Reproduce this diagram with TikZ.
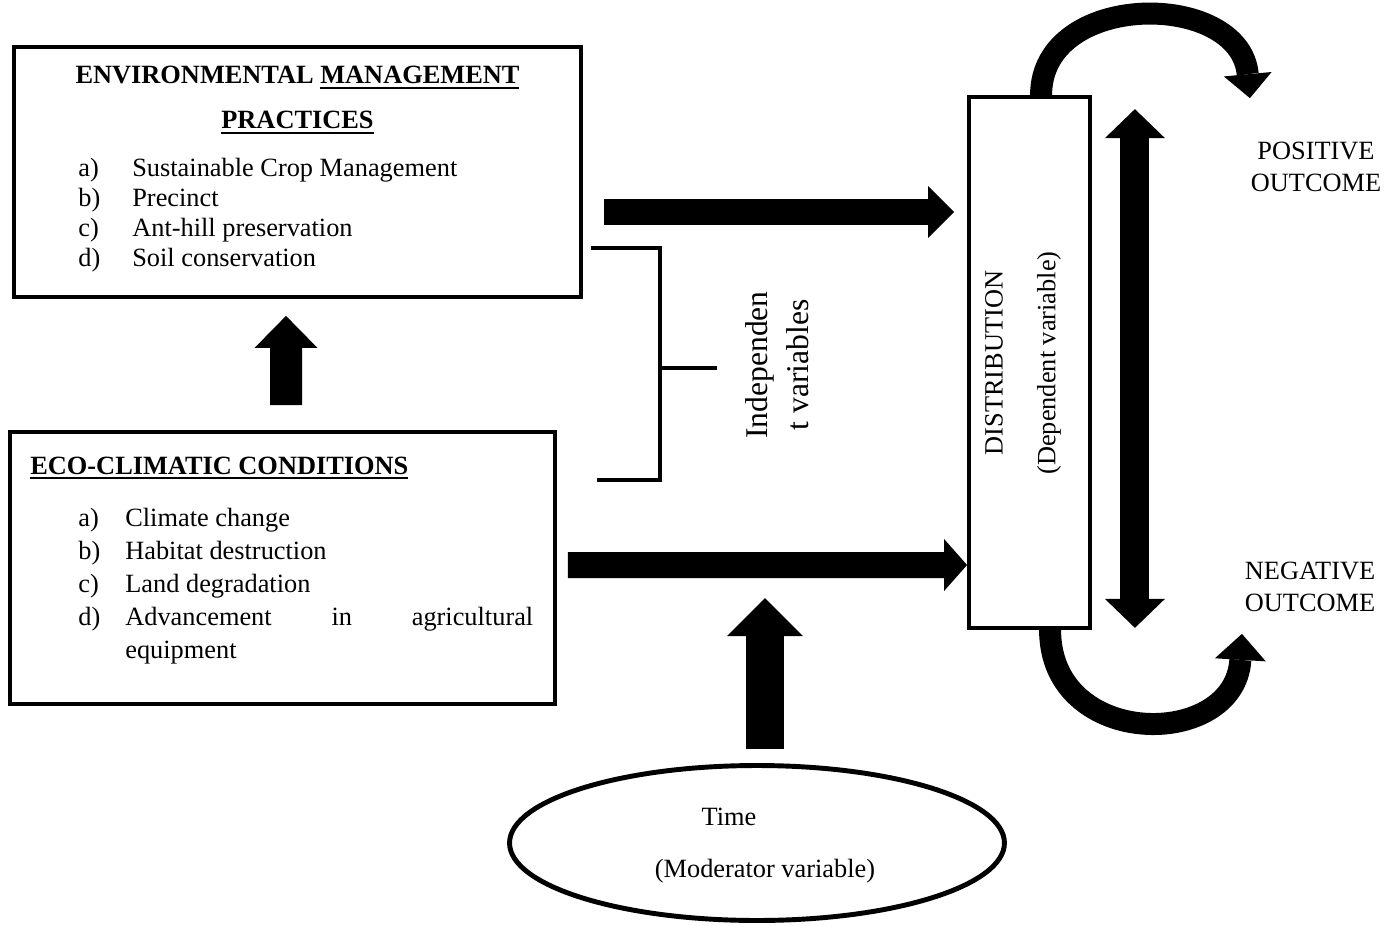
\documentclass[tikz,border=0pt]{standalone}
\usepackage{fontspec}
\setmainfont{Liberation Serif}
\usetikzlibrary{arrows.meta, positioning, shapes.geometric}
\newcommand{\ulbar}[1]{\setbox0\hbox{#1}\rlap{\rule[-2.8pt]{\wd0}{1.1pt}}\box0}

\begin{document}
\begin{tikzpicture}[
  x=0.02cm, y=-0.02cm,
  box/.style={draw, line width=2.2pt, inner sep=0pt},
  txt/.style={inner sep=0pt, font=\fontsize{15}{18}\selectfont},
  head/.style={inner sep=0pt, font=\fontsize{15}{18}\selectfont\bfseries},
  fat/.style n args={3}{line width=#1, -{Triangle[length=#2, width=#3, line width=0pt]}},
  fatboth/.style n args={3}{line width=#1, {Triangle[length=#2, width=#3, line width=0pt]}-{Triangle[length=#2, width=#3, line width=0pt]}},
  bracket/.style={line width=2.2pt}
]
  \useasboundingbox (0,0) rectangle (1393,926);

  \node[box, minimum width=11.34cm, minimum height=5cm] (env) at (297.5,172) {};
  \node[box, minimum width=10.9cm, minimum height=5.44cm] (eco) at (282.5,568) {};
  \node[box, minimum width=2.42cm, minimum height=10.62cm] (dist) at (1029.5,362.5) {};
  \node[box, ellipse, line width=2.8pt, minimum width=9.9cm, minimum height=3.1cm] (time) at (757,843) {};

  % texts of the boxes
  \node[head, anchor=base] (envhead) at (297.5,84) {ENVIRONMENTAL \ulbar{MANAGEMENT}};
  \node[head, anchor=base] (envhead2) at (297.5,129) {\ulbar{PRACTICES}};
  \node[txt, anchor=base west, font=\fontsize{15}{17.2}\selectfont] (envlist) at (78,176) {%
    \begin{tabular}[t]{@{}p{1.08cm}@{}l@{}}
      a) & Sustainable Crop Management\\
      b) & Precinct\\
      c) & Ant-hill preservation\\
      d) & Soil conservation
    \end{tabular}};

  \node[head, anchor=base west] (ecohead) at (30,474) {\ulbar{ECO-CLIMATIC CONDITIONS}};
  \node[txt, anchor=base west, font=\fontsize{15}{18.8}\selectfont] (ecolist) at (78,526) {%
    \tolerance=10000 \hyphenpenalty=10000
    \begin{tabular}[t]{@{}p{0.94cm}@{}p{8.16cm}@{}}
      a) & Climate change\\
      b) & Habitat destruction\\
      c) & Land degradation\\
      d) & \hyphenpenalty=10000 Advancement in agricultural equipment
    \end{tabular}};

  \node[txt, rotate=90, align=center, font=\fontsize{15}{30}\selectfont] (disttext) at (1023,363) {DISTRIBUTION\\(Dependent variable)};
  \node[txt, rotate=90, align=center, font=\fontsize{18}{23.2}\selectfont] (indep) at (777,365) {Independen\\t variables};
  \node[txt] (timetext) at (729,817) {Time};
  \node[txt] (modtext) at (765,871) {(Moderator variable)};
  \node[txt, align=center] (pos) at (1316,167) {POSITIVE\\OUTCOME};
  \node[txt, align=center] (neg) at (1310,587) {NEGATIVE\\OUTCOME};

  % block arrows
  \draw[fat={0.64cm}{0.64cm}{1.26cm}] ([shift={(3.5,-25)}]eco.north) -- ([shift={(-11.5,17)}]env.south);
  \draw[fat={0.52cm}{0.52cm}{1.04cm}] ([shift={(21,40)}]env.east) -- ([shift={(-13,-150.5)}]dist.west);
  \draw[fat={0.52cm}{0.46cm}{1.04cm}] ([shift={(11,-3)}]eco.east) -- ([shift={(0,202.5)}]dist.west);
  \draw[fat={0.76cm}{0.76cm}{1.52cm}] ([shift={(8,-14)}]time.north) -- ++(0,-151);
  \draw[fatboth={0.58cm}{0.58cm}{1.2cm}] ([shift={(43,14)}]dist.north east) -- ([shift={(43,-2)}]dist.south east);
  \draw[fat={0.44cm}{0.48cm}{0.96cm}] ([shift={(74,0)}]dist.north west) .. controls +(0,-105) and +(-10,-108) .. ([shift={(158,3)}]dist.north east);
  \draw[fat={0.44cm}{0.52cm}{1.02cm}] ([shift={(83,0)}]dist.south west) .. controls +(0,120) and +(-7,116) .. ([shift={(150,4)}]dist.south east);

  % bracket
  \draw[bracket] (591,248) -- (660,248) -- (660,480) -- (597,480);
  \draw[bracket] (660,368) -- (717,368);
\end{tikzpicture}
\end{document}
